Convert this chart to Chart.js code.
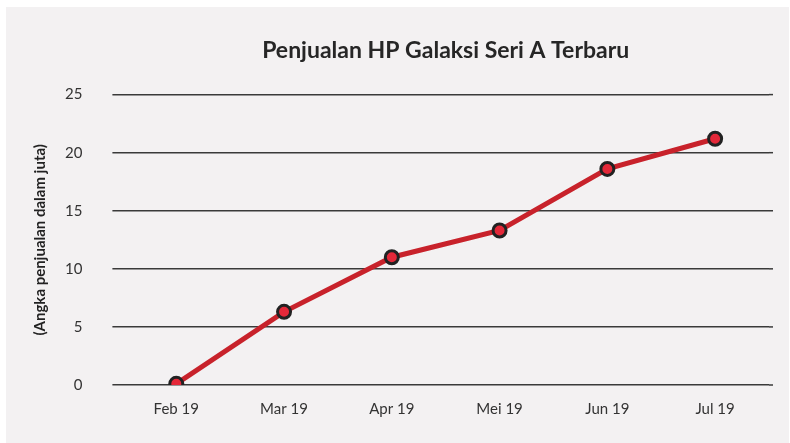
<!DOCTYPE html>
<html>
<head>
<meta charset="utf-8">
<script src="https://cdn.jsdelivr.net/npm/chart.js@4"></script>
<style>
  html, body { margin: 0; padding: 0; background: #ffffff; }
  #wrap { position: absolute; left: 6px; top: 7px; width: 783px; height: 436px; background: #f3f1f2; }
</style>
</head>
<body>
<div id="wrap"><canvas id="salesChart"></canvas></div>
<script>
var months = ['Feb 19', 'Mar 19', 'Apr 19', 'Mei 19', 'Jun 19', 'Jul 19'];
var sales = [0.1, 6.3, 11.0, 13.3, 18.6, 21.2];
var yTicks = [0, 5, 10, 15, 20, 25];

// extend the horizontal grid lines a little past the right edge of the plot
var gridExtend = {
    id: 'gridExtend',
    beforeDatasetsDraw: function(chart) {
        var ctx = chart.ctx;
        var y = chart.scales.y;
        var area = chart.chartArea;
        ctx.save();
        ctx.strokeStyle = '#3a3a3a';
        ctx.lineWidth = 1.5;
        yTicks.forEach(function(v) {
            var py = y.getPixelForValue(v);
            ctx.beginPath();
            ctx.moveTo(area.right, py);
            ctx.lineTo(area.right + 4, py);
            ctx.stroke();
        });
        ctx.restore();
    }
};

var ctx = document.getElementById('salesChart').getContext('2d');
var salesChart = new Chart(ctx, {
    type: 'line',
    data: {
        labels: months,
        datasets: [{
            data: sales,
            borderColor: '#c8222b',
            borderWidth: 5,
            backgroundColor: '#e42839',
            pointBackgroundColor: '#e42839',
            pointBorderColor: '#222222',
            pointBorderWidth: 3,
            pointRadius: 6.5,
            tension: 0
        }]
    },
    options: {
        responsive: true,
        maintainAspectRatio: false,
        animation: false,
        layout: {
            padding: { left: 25, right: 20, top: 30, bottom: 18 }
        },
        scales: {
            x: {
                offset: true,
                grid: { display: false },
                border: { display: false },
                ticks: {
                    color: '#333333',
                    font: { family: 'Lato', size: 15 },
                    padding: 7
                }
            },
            y: {
                min: 0,
                max: 25,
                afterBuildTicks: function(axis) {
                    axis.ticks = yTicks.map(function(v) { return { value: v }; });
                },
                border: { display: false },
                grid: {
                    color: '#3a3a3a',
                    lineWidth: 1.5,
                    tickLength: 10,
                    drawTicks: true
                },
                ticks: {
                    color: '#333333',
                    font: { family: 'Lato', size: 15 },
                    padding: 30
                },
                title: {
                    display: true,
                    text: '(Angka penjualan dalam juta)',
                    color: '#222222',
                    font: { family: 'Lato', size: 15, weight: 'bold' },
                    padding: { top: 0, bottom: -14 }
                }
            }
        },
        plugins: {
            legend: { display: false },
            tooltip: { enabled: false },
            title: {
                display: true,
                fullSize: false,
                text: 'Penjualan HP Galaksi Seri A Terbaru',
                color: '#262626',
                font: { family: 'Lato', size: 23, weight: 'bold' },
                padding: { top: 0, bottom: 30 }
            }
        }
    },
    plugins: [gridExtend]
});
</script>
</body>
</html>
